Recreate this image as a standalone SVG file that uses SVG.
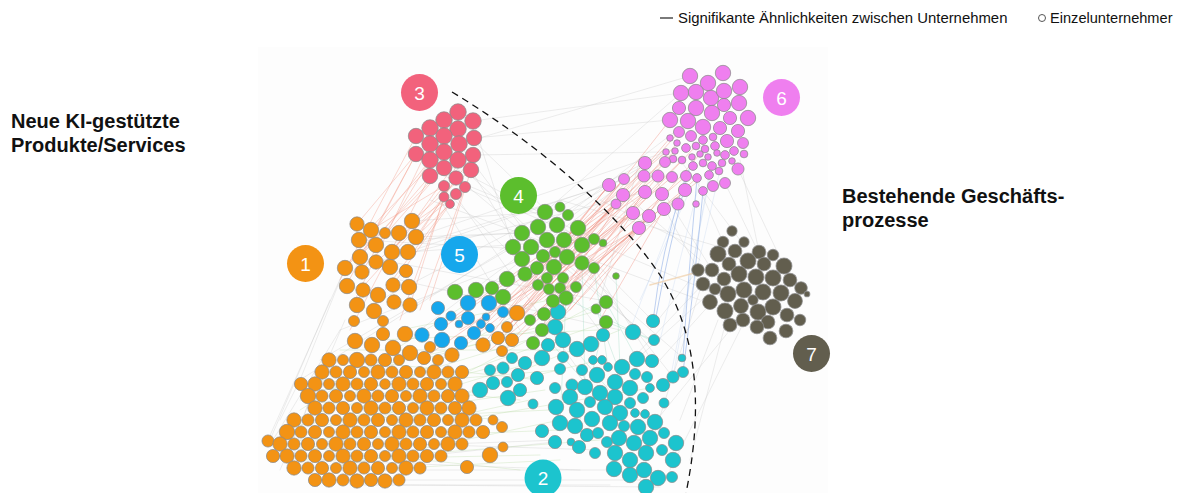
<svg xmlns="http://www.w3.org/2000/svg" width="1179" height="493" viewBox="0 0 1179 493">
<style>
.t{font-family:"Liberation Sans",Arial,sans-serif;fill:#111}
.h{font-family:"Liberation Sans",Arial,sans-serif;font-weight:bold;font-size:20px;fill:#111}
.lb{font-family:"Liberation Sans",Arial,sans-serif;font-size:19px;fill:#fff;text-anchor:middle}
.nodes circle{stroke:#8a8a8a;stroke-width:.9;stroke-opacity:.75;transform-box:fill-box;transform-origin:center;transform:scale(1.1)}
.nodes circle.L{stroke:none;transform:none}
.k circle{transform:scale(1.14)}
.o circle{fill:#F39314}.c circle{fill:#1CC4CE}.g circle{fill:#5CBE2D}.b circle{fill:#16A7EC}
.r circle{fill:#F2627C}.p circle{fill:#EF7FEF}.k circle{fill:#625E4E}
.e{fill:none;stroke-linecap:round}
</style>
<rect x="258" y="47" width="570" height="446" fill="#fdfdfd"/>
<g id="connectors">
<path class="e" stroke="#c4c4c4" stroke-opacity=".5" stroke-width=".6" d="M420,150L545,215M430,170L600,240M444,190L560,300M460,180L640,330M440,200L520,330M455,195L600,400M470,175L650,340M473,140L582,245M473,121L513,247M459,144L603,335M471,170L558,312M360,240L540,250M380,260L600,300M410,240L560,230M400,280L620,330M412,221L545,212M416,237L522,233M408,252L594,239M300,380L520,240M340,330L520,260M320,360L513,247M290,440L600,450M300,470L620,470M330,480L640,480M280,450L560,440M310,460L580,470M290,470L555,442M350,485L610,485M400,485L660,487M273,440L340,330M280,420L300,380M268,440L345,268M290,470L310,395M300,380L345,268M698,270L650,330M712,302L660,360M718,320L680,420M725,325L690,460M700,290L640,480M745,320L670,470M730,330L655,422M715,288L637,359M703,284L600,393M640,160L600,300M620,190L700,260M680,160L740,240M700,190L723,242M660,200L698,270M740,160L759,252M600,200L700,250M560,200L730,250M645,163L712,270M725,183L764,264M738,169L784,266M640,170L470,300M620,180L420,330M650,160L380,300M670,150L500,250M690,120L560,220M681,93L545,212M666,152L416,237M624,179L408,252M609,185L392,252M645,192L376,262M545,212L653,321M567,257L683,358M582,263L673,377M594,268L652,361M459,144L690,76M473,121L681,93M474,138L670,120M473,155L666,152M330,300L270,440M345,320L280,470M430,200L700,300M470,190L730,300"/>
<path class="e" stroke="#a9d18e" stroke-opacity=".45" stroke-width=".6" d="M300,400L500,420M320,380L520,400M350,360L540,380M300,440L560,430M330,420L550,410M340,350L560,350M380,340L600,330M400,330L550,300M360,370L540,330M420,360L600,310M290,420L520,360M300,450L530,400M310,430L540,360M330,400L560,330M350,420L600,360M290,450L540,300M320,470L560,420M300,410L506,279M340,440L600,302M380,430L620,330M440,380L606,322M460,420L650,388M280,445L520,470M300,460L540,455M360,470L560,460M320,390L560,370M300,425L545,390M340,460L600,440"/>
<path class="e" stroke="#92d6bd" stroke-opacity=".45" stroke-width=".7" d="M540,330L600,400M567,299L650,340M596,309L630,400M605,322L580,420M606,302L637,359M616,276L620,367M594,268L608,367M582,263L585,387M566,298L560,423M544,313L615,397M606,322L654,340"/>
<path class="e" stroke="#f2907a" stroke-opacity=".45" stroke-width=".8" d="M416,154L357,224M430,160L345,268M430,176L360,257M444,168L376,245M444,186L392,252M456,178L408,252M450,204L416,237M456,194L385,290M444,197L360,290M416,136L340,280M430,144L355,300M465,187L420,310M471,170L412,221M458,160L400,320M444,197L410,305M450,204L393,285M430,176L350,330M416,154L346,286M444,186L371,230M471,170L430,300M465,187L399,233M456,194L376,262M430,160L362,272M473,155L416,237M444,168L345,268M458,160L392,252M444,152L359,240M416,154L360,257"/>
<path class="e" stroke="#f08474" stroke-opacity=".42" stroke-width=".9" d="M624,179L520,300M609,185L500,320M623,195L540,330M616,204L510,330M633,213L560,320M639,228L530,340M645,192L560,300M649,216L570,310M662,194L590,300M664,209L600,320M644,176L540,290M658,176L520,280M672,177L560,270M645,163L480,330M665,162L500,340M686,176L600,250M682,160L580,260M700,154L590,280M666,152L540,260M675,151L510,300M633,213L470,340M639,228L460,330M645,192L490,300M623,195L450,320M616,204L440,330M700,180L540,300M680,140L520,320M679,132L517,313M670,120L507,327M670,138L498,338M696,146L512,340M685,190L550,330M697,178L530,320M609,185L483,345M624,179L452,355M633,213L424,358M649,216L505,350M616,204L530,290M639,228L545,300M633,213L517,313M645,192L507,327M623,195L498,338M658,176L550,310M609,185L530,280M639,228L490,350"/>
<path class="e" stroke="#88aae6" stroke-opacity=".55" stroke-width="1" d="M690,166Q668,250 655,322M697,178Q688,280 683,358M686,176Q660,255 653,321M703,191Q694,290 683,372"/>
<path class="e" stroke="#9fbbe8" stroke-opacity=".3" stroke-width=".7" d="M690,190L640,300M700,180L660,340M712,166L670,380M720,170L690,300M680,200L630,330M709,175L673,377"/>
<path class="e" stroke="#efcfa8" stroke-opacity=".7" stroke-width="1.6" d="M698,272L650,285"/>
</g>
<path d="M452,92C540,145 620,215 660,275C695,330 705,400 686,493" fill="none" stroke="#111" stroke-width="1.3" stroke-dasharray="7,5"/>
<g class="nodes">
<g id="cluster-1" class="o">
<circle cx="357" cy="224" r="6.5"/><circle cx="412" cy="221" r="7"/><circle cx="371" cy="230" r="7"/><circle cx="385" cy="233" r="5"/><circle cx="399" cy="233" r="7"/><circle cx="416" cy="237" r="7"/><circle cx="359" cy="240" r="7"/><circle cx="376" cy="245" r="7"/><circle cx="392" cy="252" r="7"/><circle cx="408" cy="252" r="7"/><circle cx="360" cy="257" r="7"/><circle cx="376" cy="262" r="6.5"/><circle cx="345" cy="268" r="7"/><circle cx="390" cy="267" r="7"/><circle cx="362" cy="272" r="6.5"/><circle cx="406" cy="271" r="6"/><circle cx="347" cy="286" r="7"/><circle cx="363" cy="290" r="6.5"/><circle cx="378" cy="295" r="7"/><circle cx="393" cy="285" r="6.5"/><circle cx="409" cy="287" r="7"/><circle cx="357" cy="305" r="7"/><circle cx="374" cy="311" r="7"/><circle cx="394" cy="302" r="6.5"/><circle cx="410" cy="305" r="6.5"/><circle cx="354" cy="321" r="5"/><circle cx="383" cy="321" r="5"/><circle cx="355" cy="341" r="7"/><circle cx="372" cy="345" r="7"/><circle cx="383" cy="334" r="6"/><circle cx="405" cy="334" r="7"/><circle cx="393" cy="348" r="7"/><circle cx="410" cy="353" r="7"/>
<circle cx="430" cy="347" r="5"/><circle cx="424" cy="358" r="6"/><circle cx="438" cy="360" r="5"/><circle cx="452" cy="355" r="6.5"/><circle cx="483" cy="345" r="6.5"/><circle cx="498" cy="338" r="6"/><circle cx="512" cy="340" r="6"/><circle cx="507" cy="327" r="5"/><circle cx="517" cy="313" r="7"/><circle cx="502" cy="351" r="5"/>
<circle cx="329" cy="360" r="6.5"/><circle cx="343" cy="360" r="5"/><circle cx="357" cy="360" r="7"/><circle cx="371" cy="360" r="5.5"/><circle cx="385" cy="360" r="6"/><circle cx="399" cy="360" r="5"/>
<circle cx="322" cy="372" r="6.5"/><circle cx="336" cy="372" r="5.5"/><circle cx="350" cy="372" r="6"/><circle cx="364" cy="372" r="5"/><circle cx="378" cy="372" r="6.5"/><circle cx="392" cy="372" r="5.5"/><circle cx="406" cy="372" r="6"/><circle cx="420" cy="372" r="5"/><circle cx="434" cy="372" r="6.5"/><circle cx="448" cy="372" r="5.5"/><circle cx="462" cy="372" r="6"/>
<circle cx="301" cy="384" r="6"/><circle cx="315" cy="384" r="6.5"/><circle cx="329" cy="384" r="5"/><circle cx="343" cy="384" r="6.5"/><circle cx="357" cy="384" r="5.5"/><circle cx="371" cy="384" r="6"/><circle cx="385" cy="384" r="4.8"/><circle cx="399" cy="384" r="6.5"/><circle cx="413" cy="384" r="5.5"/><circle cx="427" cy="384" r="6"/><circle cx="441" cy="384" r="5"/><circle cx="455" cy="384" r="6.5"/>
<circle cx="308" cy="396" r="7"/><circle cx="322" cy="396" r="5.5"/><circle cx="336" cy="396" r="6"/><circle cx="350" cy="396" r="5"/><circle cx="364" cy="396" r="6.5"/><circle cx="378" cy="396" r="5.5"/><circle cx="392" cy="396" r="6"/><circle cx="406" cy="396" r="5"/><circle cx="420" cy="396" r="6.5"/><circle cx="434" cy="396" r="5.5"/><circle cx="448" cy="396" r="6"/><circle cx="462" cy="396" r="6.5"/>
<circle cx="315" cy="408" r="6.5"/><circle cx="329" cy="408" r="5.5"/><circle cx="343" cy="408" r="6"/><circle cx="357" cy="408" r="5"/><circle cx="371" cy="408" r="6.5"/><circle cx="385" cy="408" r="5.5"/><circle cx="399" cy="408" r="6"/><circle cx="413" cy="408" r="5"/><circle cx="427" cy="408" r="6.5"/><circle cx="441" cy="408" r="5.5"/><circle cx="455" cy="408" r="6"/><circle cx="469" cy="408" r="6.5"/>
<circle cx="294" cy="420" r="6.5"/><circle cx="308" cy="420" r="5.5"/><circle cx="322" cy="420" r="6"/><circle cx="336" cy="420" r="5"/><circle cx="350" cy="420" r="6.5"/><circle cx="364" cy="420" r="5.5"/><circle cx="378" cy="420" r="6"/><circle cx="392" cy="420" r="5"/><circle cx="406" cy="420" r="6.5"/><circle cx="420" cy="420" r="5.5"/><circle cx="434" cy="420" r="6"/><circle cx="448" cy="420" r="5"/><circle cx="462" cy="420" r="6.5"/><circle cx="476" cy="420" r="5.5"/><circle cx="493" cy="420" r="4.5"/><circle cx="502" cy="427" r="5"/>
<circle cx="287" cy="432" r="7"/><circle cx="301" cy="432" r="5.5"/><circle cx="315" cy="432" r="6"/><circle cx="329" cy="432" r="5"/><circle cx="343" cy="432" r="6.5"/><circle cx="357" cy="432" r="5.5"/><circle cx="371" cy="432" r="6"/><circle cx="385" cy="432" r="5"/><circle cx="399" cy="432" r="6.5"/><circle cx="413" cy="432" r="5.5"/><circle cx="427" cy="432" r="6"/><circle cx="441" cy="432" r="5"/><circle cx="455" cy="432" r="6.5"/><circle cx="469" cy="432" r="5.5"/><circle cx="483" cy="432" r="6"/>
<circle cx="268" cy="441" r="5.5"/><circle cx="280" cy="444" r="6.5"/><circle cx="294" cy="444" r="5.5"/><circle cx="308" cy="444" r="6"/><circle cx="322" cy="444" r="5"/><circle cx="336" cy="444" r="6.5"/><circle cx="350" cy="444" r="5.5"/><circle cx="364" cy="444" r="6"/><circle cx="378" cy="444" r="5"/><circle cx="392" cy="444" r="6.5"/><circle cx="406" cy="444" r="5.5"/><circle cx="420" cy="444" r="6"/><circle cx="434" cy="444" r="5"/><circle cx="448" cy="444" r="6.5"/><circle cx="462" cy="444" r="5.5"/>
<circle cx="273" cy="456" r="6"/><circle cx="287" cy="456" r="6.5"/><circle cx="301" cy="456" r="5.5"/><circle cx="315" cy="456" r="6"/><circle cx="329" cy="456" r="5"/><circle cx="343" cy="456" r="6.5"/><circle cx="357" cy="456" r="5.5"/><circle cx="371" cy="456" r="6"/><circle cx="385" cy="456" r="5"/><circle cx="399" cy="456" r="6.5"/><circle cx="413" cy="456" r="5.5"/><circle cx="427" cy="456" r="6"/><circle cx="441" cy="456" r="5.5"/><circle cx="490" cy="455" r="7"/><circle cx="503" cy="447" r="4.5"/>
<circle cx="294" cy="468" r="6.5"/><circle cx="308" cy="468" r="5.5"/><circle cx="322" cy="468" r="6"/><circle cx="336" cy="468" r="5"/><circle cx="350" cy="468" r="6.5"/><circle cx="364" cy="468" r="5.5"/><circle cx="378" cy="468" r="6"/><circle cx="392" cy="468" r="5"/><circle cx="406" cy="468" r="6.5"/><circle cx="420" cy="468" r="5.5"/><circle cx="467" cy="467" r="6"/>
<circle cx="315" cy="480" r="6"/><circle cx="329" cy="480" r="6.5"/><circle cx="343" cy="480" r="5.5"/><circle cx="357" cy="481" r="6.5"/><circle cx="371" cy="480" r="6"/><circle cx="385" cy="481" r="6.5"/><circle cx="399" cy="480" r="5.5"/>
<circle class="L" cx="305.5" cy="263.5" r="18.5"/>
<text class="lb" x="305.5" y="270.5">1</text>
</g>
<g id="cluster-2" class="c">
<circle cx="558" cy="312" r="7"/><circle cx="555" cy="327" r="7"/><circle cx="653" cy="321" r="6"/><circle cx="603" cy="335" r="6"/><circle cx="633" cy="332" r="7"/><circle cx="654" cy="340" r="5"/><circle cx="563" cy="340" r="7"/><circle cx="577" cy="349" r="7"/><circle cx="591" cy="344" r="7"/><circle cx="548" cy="345" r="6"/><circle cx="542" cy="358" r="7"/><circle cx="525" cy="363" r="6"/><circle cx="512" cy="358" r="5"/><circle cx="503" cy="368" r="5.5"/><circle cx="563" cy="357" r="5"/><circle cx="593" cy="360" r="4"/><circle cx="602" cy="360" r="4"/><circle cx="637" cy="359" r="7"/><circle cx="652" cy="361" r="6"/><circle cx="682" cy="358" r="3.5"/><circle cx="683" cy="372" r="5"/><circle cx="673" cy="377" r="5.5"/><circle cx="560" cy="369" r="5"/><circle cx="582" cy="370" r="5"/><circle cx="597" cy="375" r="7"/><circle cx="608" cy="367" r="4"/><circle cx="622" cy="367" r="7"/><circle cx="635" cy="374" r="5"/><circle cx="647" cy="377" r="5"/><circle cx="518" cy="375" r="6"/><circle cx="537" cy="378" r="6"/><circle cx="507" cy="382" r="5"/><circle cx="555" cy="388" r="5"/><circle cx="572" cy="385" r="5.5"/><circle cx="585" cy="387" r="7"/><circle cx="600" cy="393" r="7"/><circle cx="615" cy="382" r="7"/><circle cx="630" cy="388" r="7"/><circle cx="650" cy="388" r="4"/><circle cx="663" cy="385" r="6"/><circle cx="520" cy="390" r="6"/><circle cx="508" cy="398" r="7"/><circle cx="570" cy="397" r="7"/><circle cx="590" cy="402" r="5"/><circle cx="615" cy="397" r="7"/><circle cx="630" cy="403" r="5"/><circle cx="643" cy="398" r="5"/><circle cx="664" cy="403" r="4.5"/><circle cx="533" cy="404" r="4.5"/><circle cx="556" cy="407" r="7"/><circle cx="577" cy="410" r="7"/><circle cx="605" cy="407" r="7"/><circle cx="620" cy="413" r="7"/><circle cx="635" cy="413" r="4"/><circle cx="645" cy="414" r="4"/><circle cx="560" cy="423" r="7"/><circle cx="575" cy="426" r="7"/><circle cx="592" cy="419" r="7"/><circle cx="610" cy="423" r="7"/><circle cx="624" cy="426" r="5"/><circle cx="638" cy="427" r="7"/><circle cx="655" cy="422" r="7"/><circle cx="542" cy="431" r="6"/><circle cx="587" cy="435" r="6"/><circle cx="598" cy="433" r="5"/><circle cx="607" cy="442" r="5"/><circle cx="619" cy="438" r="7"/><circle cx="634" cy="443" r="7"/><circle cx="650" cy="438" r="7"/><circle cx="664" cy="433" r="5"/><circle cx="676" cy="443" r="7"/><circle cx="555" cy="442" r="6"/><circle cx="571" cy="442" r="3.5"/><circle cx="579" cy="447" r="6"/><circle cx="595" cy="453" r="5"/><circle cx="615" cy="453" r="7"/><circle cx="630" cy="460" r="7"/><circle cx="646" cy="453" r="7"/><circle cx="662" cy="450" r="5"/><circle cx="673" cy="460" r="7"/><circle cx="614" cy="469" r="7"/><circle cx="630" cy="475" r="7"/><circle cx="644" cy="470" r="7"/><circle cx="658" cy="478" r="7"/><circle cx="672" cy="477" r="5"/><circle cx="646" cy="487" r="7"/><circle cx="480" cy="390" r="7"/><circle cx="493" cy="383" r="6"/><circle cx="490" cy="370" r="5"/>
<circle class="L" cx="543" cy="478" r="18.5"/>
<text class="lb" x="543" y="485">2</text>
</g>
<g id="cluster-3" class="r">
<circle cx="458" cy="112" r="7.5"/><circle cx="444" cy="120" r="7.5"/><circle cx="473" cy="121" r="7.5"/><circle cx="430" cy="128" r="7.5"/><circle cx="458" cy="129" r="7.5"/><circle cx="416" cy="136" r="7"/><circle cx="444" cy="136" r="7.5"/><circle cx="474" cy="138" r="7"/><circle cx="430" cy="144" r="7.5"/><circle cx="459" cy="144" r="7.5"/><circle cx="416" cy="154" r="7"/><circle cx="444" cy="152" r="7.5"/><circle cx="473" cy="155" r="7"/><circle cx="430" cy="160" r="7.5"/><circle cx="458" cy="160" r="7.5"/><circle cx="444" cy="168" r="7"/><circle cx="471" cy="170" r="7"/><circle cx="430" cy="176" r="7"/><circle cx="456" cy="178" r="6.5"/><circle cx="444" cy="186" r="5"/><circle cx="465" cy="187" r="5"/><circle cx="456" cy="194" r="5"/><circle cx="444" cy="197" r="4.5"/><circle cx="450" cy="204" r="4"/>
<circle class="L" cx="419.5" cy="92.5" r="18.5"/>
<text class="lb" x="419.5" y="99.5">3</text>
</g>
<g id="cluster-4" class="g">
<circle cx="545" cy="212" r="7"/><circle cx="560" cy="207" r="4.5"/><circle cx="568" cy="215" r="5"/><circle cx="522" cy="233" r="7"/><circle cx="538" cy="227" r="7"/><circle cx="557" cy="225" r="7"/><circle cx="578" cy="228" r="7"/><circle cx="547" cy="240" r="7"/><circle cx="564" cy="240" r="7"/><circle cx="594" cy="239" r="5"/><circle cx="603" cy="243" r="3.5"/><circle cx="513" cy="247" r="7"/><circle cx="531" cy="247" r="7"/><circle cx="582" cy="245" r="7"/><circle cx="555" cy="252" r="5"/><circle cx="543" cy="256" r="6"/><circle cx="522" cy="259" r="7"/><circle cx="567" cy="257" r="7"/><circle cx="582" cy="263" r="6.5"/><circle cx="554" cy="267" r="7"/><circle cx="537" cy="268" r="6"/><circle cx="594" cy="268" r="5"/><circle cx="525" cy="274" r="6.5"/><circle cx="507" cy="279" r="7"/><circle cx="547" cy="278" r="5"/><circle cx="563" cy="278" r="5"/><circle cx="616" cy="276" r="3"/><circle cx="538" cy="285" r="5"/><circle cx="549" cy="289" r="5"/><circle cx="560" cy="288" r="5"/><circle cx="576" cy="287" r="5"/><circle cx="455" cy="292" r="7"/><circle cx="476" cy="290" r="7"/><circle cx="492" cy="288" r="6"/><circle cx="503" cy="297" r="7"/><circle cx="566" cy="298" r="6.5"/><circle cx="553" cy="301" r="6"/><circle cx="606" cy="302" r="6"/><circle cx="596" cy="309" r="4.5"/><circle cx="544" cy="314" r="6"/><circle cx="530" cy="320" r="5"/><circle cx="606" cy="322" r="6"/><circle cx="542" cy="330" r="6"/><circle cx="533" cy="343" r="6"/>
<circle class="L" cx="518.5" cy="195.5" r="18.5"/>
<text class="lb" x="518.5" y="202.5">4</text>
</g>
<g id="cluster-5" class="b">
<circle cx="438" cy="308" r="6"/><circle cx="468" cy="303" r="7"/><circle cx="489" cy="303" r="7"/><circle cx="503" cy="312" r="5"/><circle cx="451" cy="316" r="4.5"/><circle cx="468" cy="318" r="6"/><circle cx="486" cy="317" r="3.5"/><circle cx="481" cy="324" r="4"/><circle cx="459" cy="324" r="3.5"/><circle cx="490" cy="328" r="4"/><circle cx="441" cy="324" r="6"/><circle cx="474" cy="333" r="6"/><circle cx="422" cy="335" r="6.5"/><circle cx="442" cy="340" r="7"/><circle cx="461" cy="343" r="6"/>
<circle class="L" cx="459.5" cy="254.5" r="18.5"/>
<text class="lb" x="459.5" y="261.5">5</text>
</g>
<g id="cluster-6" class="p">
<circle cx="690" cy="76" r="7"/><circle cx="723" cy="73" r="7"/><circle cx="708" cy="83" r="7"/><circle cx="740" cy="87" r="7"/><circle cx="681" cy="93" r="7"/><circle cx="696" cy="92" r="7"/><circle cx="711" cy="98" r="7"/><circle cx="724" cy="91" r="7"/><circle cx="679" cy="108" r="6"/><circle cx="696" cy="108" r="7"/><circle cx="724" cy="105" r="6"/><circle cx="739" cy="103" r="7"/><circle cx="712" cy="113" r="7"/><circle cx="748" cy="118" r="7"/><circle cx="670" cy="120" r="7"/><circle cx="688" cy="121" r="7"/><circle cx="703" cy="127" r="7"/><circle cx="730" cy="118" r="6"/><circle cx="720" cy="128" r="6"/><circle cx="738" cy="131" r="6"/><circle cx="679" cy="132" r="5"/><circle cx="691" cy="136" r="5"/><circle cx="670" cy="138" r="3"/><circle cx="703" cy="140" r="4"/><circle cx="713" cy="137" r="3.5"/><circle cx="727" cy="141" r="6"/><circle cx="743" cy="143" r="5"/><circle cx="677" cy="143" r="3"/><circle cx="686" cy="148" r="4"/><circle cx="696" cy="146" r="3.5"/><circle cx="705" cy="149" r="3.5"/><circle cx="715" cy="146" r="4"/><circle cx="725" cy="155" r="4"/><circle cx="734" cy="151" r="4"/><circle cx="744" cy="154" r="3.5"/><circle cx="666" cy="152" r="3"/><circle cx="675" cy="151" r="3"/><circle cx="692" cy="157" r="3"/><circle cx="700" cy="154" r="3"/><circle cx="708" cy="157" r="3"/><circle cx="717" cy="153" r="3"/><circle cx="673" cy="159" r="3.5"/><circle cx="645" cy="163" r="6"/><circle cx="665" cy="162" r="5"/><circle cx="682" cy="160" r="3.5"/><circle cx="693" cy="166" r="4"/><circle cx="703" cy="163" r="3.5"/><circle cx="712" cy="166" r="4"/><circle cx="722" cy="163" r="3.5"/><circle cx="732" cy="161" r="3"/><circle cx="738" cy="169" r="5.5"/><circle cx="624" cy="179" r="5"/><circle cx="644" cy="176" r="5.5"/><circle cx="658" cy="176" r="5.5"/><circle cx="672" cy="177" r="5"/><circle cx="686" cy="176" r="5"/><circle cx="697" cy="178" r="4"/><circle cx="709" cy="175" r="4"/><circle cx="719" cy="171" r="3.5"/><circle cx="725" cy="183" r="5"/><circle cx="609" cy="185" r="6"/><circle cx="623" cy="195" r="6"/><circle cx="645" cy="192" r="6"/><circle cx="662" cy="194" r="6"/><circle cx="685" cy="190" r="6"/><circle cx="703" cy="191" r="4"/><circle cx="713" cy="186" r="5"/><circle cx="616" cy="204" r="4.5"/><circle cx="664" cy="209" r="6"/><circle cx="678" cy="204" r="5.5"/><circle cx="696" cy="204" r="3"/><circle cx="633" cy="213" r="6"/><circle cx="649" cy="216" r="6"/><circle cx="639" cy="228" r="6"/>
<circle class="L" cx="781.5" cy="97.5" r="18.5"/>
<text class="lb" x="781.5" y="104.5">6</text>
</g>
<g id="cluster-7" class="k">
<circle cx="732" cy="231" r="4.5"/><circle cx="723" cy="242" r="5"/><circle cx="744" cy="242" r="4.5"/><circle cx="718" cy="254" r="7"/><circle cx="735" cy="251" r="6"/><circle cx="759" cy="252" r="6"/><circle cx="773" cy="255" r="5"/><circle cx="748" cy="261" r="7"/><circle cx="729" cy="264" r="6"/><circle cx="764" cy="264" r="6"/><circle cx="784" cy="266" r="7"/><circle cx="698" cy="270" r="5.5"/><circle cx="712" cy="270" r="6"/><circle cx="739" cy="274" r="7"/><circle cx="756" cy="277" r="7"/><circle cx="773" cy="278" r="7"/><circle cx="724" cy="279" r="6"/><circle cx="790" cy="280" r="6"/><circle cx="703" cy="284" r="6"/><circle cx="715" cy="289" r="5"/><circle cx="744" cy="290" r="7"/><circle cx="763" cy="292" r="7"/><circle cx="781" cy="293" r="7"/><circle cx="728" cy="294" r="7"/><circle cx="801" cy="288" r="5.5"/><circle cx="807" cy="294" r="2.5"/><circle cx="710" cy="302" r="6.5"/><circle cx="753" cy="300" r="4.5"/><circle cx="741" cy="306" r="6.5"/><circle cx="758" cy="312" r="7"/><circle cx="773" cy="307" r="7"/><circle cx="795" cy="301" r="6.5"/><circle cx="787" cy="315" r="6"/><circle cx="725" cy="311" r="7"/><circle cx="743" cy="320" r="6"/><circle cx="768" cy="322" r="6"/><circle cx="800" cy="320" r="5"/><circle cx="730" cy="325" r="6"/><circle cx="757" cy="327" r="6"/><circle cx="786" cy="331" r="6"/><circle cx="770" cy="338" r="6"/>
<circle class="L" cx="811.5" cy="353.5" r="18.5"/>
<text class="lb" x="811.5" y="360.5">7</text>
</g>
</g>
<g id="legend">
<line x1="660" y1="18" x2="673" y2="18" stroke="#222" stroke-width="1.2"/>
<text class="t" x="678" y="23" font-size="14.9">Signifikante Ähnlichkeiten zwischen Unternehmen</text>
<circle cx="1042" cy="18" r="3.5" fill="none" stroke="#555" stroke-width="1"/>
<text class="t" x="1050" y="23" font-size="14.6">Einzelunternehmer</text>
</g>
<g id="labels">
<text class="h" x="11" y="128">Neue KI-gestützte</text>
<text class="h" x="11" y="152">Produkte/Services</text>
<text class="h" x="842" y="203">Bestehende Geschäfts-</text>
<text class="h" x="842" y="227">prozesse</text>
</g>
</svg>
